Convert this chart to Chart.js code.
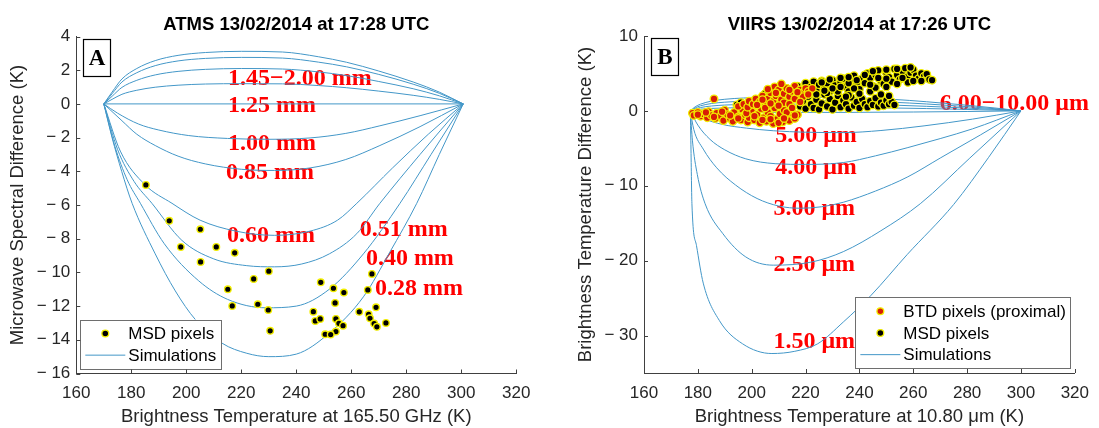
<!DOCTYPE html>
<html>
<head>
<meta charset="utf-8">
<script src="https://cdn.jsdelivr.net/npm/chart.js@4.4.1/dist/chart.umd.min.js"></script>
<style>
    html, body { margin: 0; padding: 0; background: #fff; }
    #wrap { position: relative; width: 1099px; height: 428px; }
    #chartA { position: absolute; left: 0; top: 0; }
    #chartB { position: absolute; left: 549px; top: 0; }
</style>
</head>
<body>
<div id="wrap">
    <canvas id="chartA" width="549" height="428"></canvas>
    <canvas id="chartB" width="550" height="428"></canvas>
</div>
<script>
// ---- ticks ----
var xTicks = [160, 180, 200, 220, 240, 260, 280, 300, 320];
var yTicksA = [4, 2, 0, -2, -4, -6, -8, -10, -12, -14, -16];
var yTicksB = [10, 0, -10, -20, -30];

// ---- ATMS simulations (x = Tb 165.50 GHz, y = MSD) ----
var simA_top1 = [[170,0],[173,0.7],[176.6,1.48],[182,2.1],[188.7,2.57],[197,2.88],[207,3.05],[220,3.12],[235,3.08],[248,2.8],[258.3,2.47],[270,1.95],[282.5,1.3],[292,0.7],[300.7,0]];
var simA_top2 = [[170,0],[173,0.6],[176.6,1.3],[182,1.85],[188.7,2.27],[197,2.55],[207,2.7],[220,2.76],[235,2.72],[248,2.48],[258.3,2.2],[270,1.75],[282.5,1.17],[292,0.63],[300.7,0]];
var simA_top3 = [[170,0],[173,0.45],[176.6,0.98],[182,1.4],[188.7,1.72],[197,1.93],[207,2.05],[220,2.1],[235,2.07],[248,1.9],[258.3,1.68],[270,1.33],[282.5,0.9],[292,0.48],[300.7,0]];
var simA_top4 = [[170,0],[173,0.27],[176.6,0.57],[182,0.81],[188.7,0.99],[197,1.11],[207,1.18],[220,1.2],[235,1.19],[248,1.09],[258.3,0.96],[270,0.76],[282.5,0.51],[292,0.27],[300.7,0]];
var simA_125 = [[170,0],[235,0],[300.7,0]];
var simA_100 = [[170,0],[175,-0.55],[182.7,-1.2],[190,-1.55],[200.9,-1.88],[215,-2.05],[230,-2.1],[245,-2.02],[258,-1.75],[270.4,-1.3],[285,-0.7],[300.7,0]];
var simA_085 = [[170,0],[176.6,-1.0],[182,-1.8],[188.7,-2.47],[197,-3.1],[206.9,-3.56],[220,-3.88],[232,-3.95],[245,-3.8],[258,-3.3],[270.4,-2.47],[285,-1.35],[300.7,0]];
var simA_060 = [[170,0],[176,-2.8],[185,-4.8],[194.8,-5.9],[205,-6.9],[218,-7.55],[232,-7.8],[245,-7.55],[255,-6.9],[262,-5.9],[275,-3.8],[288,-1.8],[300.7,0]];
var simA_051 = [[170,0],[175,-2.7],[181,-4.6],[187.5,-5.9],[198.4,-8.1],[210,-9.2],[222,-9.6],[232,-9.67],[242,-9.5],[252,-8.9],[262,-7.7],[270.4,-5.9],[285,-3],[300.7,0]];
var simA_040 = [[170,0],[174,-2.5],[178.5,-4.5],[183.3,-5.9],[192,-8.3],[204.5,-10.5],[215,-11.6],[229,-12.1],[240,-12.0],[252,-11.0],[264.4,-8.9],[277.7,-5.9],[289,-3],[300.7,0]];
var simA_028 = [[170,0],[173,-2],[176.5,-4],[180.3,-5.9],[188.7,-8.9],[196,-11.1],[203.3,-12.8],[213,-14.2],[222,-14.8],[230,-15],[240,-14.85],[252,-13.6],[264.4,-11.45],[274,-8.8],[283.8,-5.9],[292,-3],[300.7,0]];
var simACurves = [simA_top1, simA_top2, simA_top3, simA_top4, simA_125, simA_100, simA_085, simA_060, simA_051, simA_040, simA_028];

var msdA = [
    [185.3,-4.81],[193.8,-6.94],[205.1,-7.44],[198.0,-8.49],[210.9,-8.49],[217.6,-8.84],[205.2,-9.38],
    [230.0,-9.93],[224.5,-10.39],[215.1,-11.0],[216.7,-11.99],[226.0,-11.89],[229.8,-12.23],[230.5,-13.47],
    [248.9,-10.59],[253.5,-10.94],[257.3,-11.2],[254.1,-11.81],[246.2,-12.33],[246.9,-12.88],[248.7,-12.76],
    [254.4,-12.76],[255.5,-13.02],[257.0,-13.16],[254.4,-13.51],[250.5,-13.67],[252.5,-13.69],
    [267.5,-10.09],[266.0,-11.04],[269.0,-12.07],[262.9,-12.34],[266.3,-12.49],[266.8,-12.72],
    [268.3,-13.04],[269.3,-13.23],[272.6,-13.0]
];
var curveLabelsA = ['1.45\u22122.00 mm', '1.25 mm', '1.00 mm', '0.85 mm', '0.60 mm', '0.51 mm', '0.40 mm', '0.28 mm'];

// ---- VIIRS simulations (x = Tb 10.80 um, y = BTD) ----
var simB_p1 = [[177.2,0],[179,0.55],[181,0.9],[185,1.3],[190,1.55],[197,1.72],[210,1.82],[225,1.83],[238,1.74],[252,1.55],[265,1.22],[278,0.82],[290,0.4],[300,0]];
var simB_p2 = [[177.2,0],[179,0.4],[181,0.68],[185,0.98],[190,1.16],[197,1.29],[210,1.37],[225,1.37],[238,1.3],[252,1.16],[265,0.92],[278,0.62],[290,0.3],[300,0]];
var simB_p3 = [[177.2,0],[179,0.27],[181,0.45],[185,0.65],[190,0.78],[197,0.86],[210,0.91],[225,0.91],[238,0.87],[252,0.78],[265,0.61],[278,0.41],[290,0.2],[300,0]];
var simB_p4 = [[177.2,0],[179,0.14],[181,0.23],[185,0.33],[190,0.39],[197,0.43],[210,0.46],[225,0.46],[238,0.44],[252,0.39],[265,0.31],[278,0.21],[290,0.1],[300,0]];
var simB_p5 = [[177.2,0],[190,-0.12],[210,-0.2],[235,-0.2],[260,-0.15],[280,-0.08],[300,0]];
var simB_500 = [[177.2,0],[182,-1.0],[189,-1.8],[198,-2.3],[208,-2.65],[220,-2.85],[234,-2.9],[248,-2.62],[264,-2.0],[282,-1.1],[300,0]];
var simB_400 = [[177.2,0],[180,-1.9],[184.5,-3.8],[190,-5.2],[197.8,-6.4],[208.7,-7.05],[220,-7.15],[234,-6.9],[246,-6.0],[258,-4.9],[270,-3.7],[282,-2.4],[300,0]];
var simB_300 = [[177.2,0],[178.5,-2.5],[182,-5.1],[187,-7.6],[194,-9.9],[202,-11.7],[210,-12.7],[218,-13.0],[226,-12.8],[234,-12.2],[246,-10.7],[258,-8.8],[270,-6.3],[285,-3.2],[300,0]];
var simB_250 = [[177.2,0],[178,-4],[179.8,-8.5],[182.7,-12.4],[189.3,-16.4],[197.8,-19.5],[208,-20.6],[222,-20.2],[234,-18.8],[248,-16],[262.6,-12.4],[281,-6.3],[300,0]];
var simB_150 = [[177.2,0],[177.4,-4],[177.8,-12.4],[179.5,-18],[182,-23],[188,-28],[196.6,-31.1],[207.5,-32.4],[216,-32.1],[224.5,-31.1],[234,-28.2],[244.4,-24.6],[257.7,-19.2],[275,-12.5],[288,-6.2],[300,0]];
var simBCurves = [simB_p1, simB_p2, simB_p3, simB_p4, simB_p5, simB_500, simB_400, simB_300, simB_250, simB_150];

var btdB = [
    [178,-0.3],[178.5,-0.6],[180,-0.2],[181,-0.7],[182,-0.4],[183.5,-0.9],[184,-0.1],[185,-0.6],[186.5,-1.0],
    [187,-0.3],[188.5,-0.7],[189.5,-1.3],[190,0.1],[191,-0.5],[192,-1.0],[193,-1.4],[193.5,-0.2],[195,-0.8],
    [196,-1.2],[196.5,0.2],[197.5,-0.5],[198.5,-1.5],[199,-0.9],[200,-0.1],[201,-1.2],[202,-0.5],[203,-1.6],
    [203.5,0.3],[204.5,-0.9],[205.5,-1.4],[206,-0.2],[207,-0.7],[208,-1.7],[208.5,0.4],[209.5,-1.1],[210.5,-0.4],
    [211.5,-1.5],[212,0.1],[213,-0.8],[214,-1.3],[215,-0.3],[216,-1.0],[217,-0.5],
    [180,-0.5],[183,-0.2],[186,-0.8],[189,-0.1],[192,-0.6],[195,-1.0],[198,-0.3],[201,-0.7],[204,-1.2],
    [207,-1.1],[210,-1.6],[213,-0.2],[216,-0.6],[212,-1.0],
    [195,0.6],[197,0.9],[198.5,0.5],[199,1.3],[200.5,0.9],[201.5,1.6],[203,1.2],[204,2.0],[205,0.9],[206,1.6],
    [207,2.4],[208,1.3],[208.5,3.2],[209,2.0],[210,2.8],[211,1.5],[212,2.3],[213,3.0],[214,1.9],[215,2.6],
    [216,3.3],[217,2.1],[218,2.8],[219,2.4],[220,3.0],[221,2.6],[222.5,3.0],[211,3.6],[206,2.9],
    [205,0.4],[202,0.8],[207,1.0],[212,1.1],[216,1.6],[219,1.9],[221,2.2],[214,2.8],[217,2.5],[209,2.4],[204,1.5],
    [210,0.7],[214,0.9],[218,1.2],[215,0.4],[186,1.6]
];
var msdB = [
    [194.5,0.8],[196,1.1],[198,0.6],[200,1.3],[202,0.7],[204,1.5],[206,0.8],[208,1.2],[210,0.5],[212,1.4],
    [214,0.9],[216,1.8],[218,0.6],[219,1.3],[220,0.3],[221,1.9],[222,0.9],[223,0.4],[224,1.5],[225,0.2],
    [226,1.0],[227,2.2],[228,0.6],[229,1.6],[230,0.2],[231,1.1],[232,2.0],[233,0.5],[234,1.4],[235,0.9],
    [236,0.3],[237,1.8],[238,0.7],[239,1.2],[240,0.4],[241,1.6],[242,0.9],[243,0.5],[244,1.3],[245,0.8],
    [246,1.7],[247,0.6],[248,1.1],[249,0.7],[250,1.4],[251,0.9],[252,1.2],[253,0.8],
    [205,2.3],[207,1.9],[209,2.6],[211,2.2],[213,3.0],[215,2.6],[217,3.3],[219,2.9],[220,3.7],[222,3.2],
    [223,3.9],[224,2.8],[225,3.5],[226,4.0],[227,3.1],[228,3.7],[229,2.6],[230,4.1],[231,3.4],[232,2.9],
    [233,3.8],[234,4.3],[235,3.2],[236,2.6],[237,4.0],[238,4.7],[239,3.5],[240,2.9],[241,4.3],[242,3.7],
    [243,5.0],[244,4.4],[245,3.3],[246,4.8],[247,5.4],[248,4.0],[249,3.6],[250,5.1],[251,4.5],[252,3.9],
    [253,5.6],[254,4.8],[255,4.2],[256,5.3],[257,5.7],[258,4.6],[259,5.1],[260,5.5],[261,4.7],[262,4.3],
    [263,5.0],[264,4.6],[265,4.9],[266,4.2],[267,4.1],
    [228,2.4],[232,2.6],[236,2.1],[240,2.3],[244,2.6],[248,2.2],[251,2.0],[238,3.0],[246,3.1],[250,3.2],[235,1.9],
    [258,3.8],[260,4.0],[263,4.0],[256,4.4],[254,3.6],[250,4.3],[247,4.4],[244,3.5],[242,4.8],[239,4.1],
    [236,3.7],[233,3.2],[230,3.0],[227,2.7],[224,2.2],[221,2.6],[218,2.3],[214,2.1],[210,1.9],[206,1.5],
    [203,1.1],[199,0.9],[226,3.8],[229,4.2],[233,4.4],[236,4.5],[245,5.3],[250,5.5],[254,5.6],[259,5.8]
];
var curveLabelsB = ['6.00\u221210.00 \u03bcm', '5.00 \u03bcm', '4.00 \u03bcm', '3.00 \u03bcm', '2.50 \u03bcm', '1.50 \u03bcm'];

// ---- styles / placement ----
var sans = '"Liberation Sans", Arial, Helvetica, sans-serif';
var serif = '"Liberation Serif", "Times New Roman", serif';
var simColor = '#4397c8';
var axisColor = '#404040';
var edgeYellow = '#f2ee00';
var labelPosA = [[215.2,1.48],[215.2,-0.14],[215.2,-2.34],[214.4,-4.1],[214.8,-7.8],[263.1,-7.5],[265.3,-9.18],[268.6,-10.96]];
var labelPosB = [[269.8,0.9],[208.7,-3.33],[208.7,-7.55],[208.1,-13.07],[208.1,-20.6],[208.1,-30.8]];

fmtTick = (v) => v < 0 ? '\u2212 ' + Math.abs(v) : String(v);

toXY = (pts) => pts.map(p => ({ x: p[0], y: p[1] }));

simDatasets = (curves) => curves.map(c => ({
    type: 'line',
    data: toXY(c),
    borderColor: simColor,
    borderWidth: 1,
    pointRadius: 0,
    fill: false,
    cubicInterpolationMode: 'monotone',
    order: 3
}));

pointDataset = (pts, fill, order, r) => ({
    type: 'scatter',
    data: toXY(pts),
    backgroundColor: fill,
    borderColor: edgeYellow,
    borderWidth: 1.4,
    pointRadius: r,
    order: order
});

makeExtras = (cfg) => ({
    id: 'extras',
    beforeDatasetsDraw(chart) {
        const { ctx, scales: { x, y } } = chart;
        ctx.save();
        ctx.fillStyle = '#ff0000';
        ctx.font = 'bold 24px ' + serif;
        ctx.textAlign = 'left';
        ctx.textBaseline = 'middle';
        cfg.labels.forEach((t, i) => {
            ctx.fillText(t, x.getPixelForValue(cfg.labelPos[i][0]), y.getPixelForValue(cfg.labelPos[i][1]));
        });
        ctx.restore();
    },
    afterDatasetsDraw(chart) {
        const { ctx, chartArea } = chart;
        ctx.save();
        ctx.font = '17px ' + sans;
        let textW = Math.max(...cfg.legend.map(it => ctx.measureText(it.text).width));
        let w = 48 + textW + 5;
        let h = cfg.legend.length * 21.7 + 6;
        let left = cfg.legendCorner == 'sw' ? chartArea.left + 4 : chartArea.right - 4 - w;
        let top = chartArea.bottom - 4.5 - h;
        ctx.fillStyle = '#fff';
        ctx.fillRect(left, top, w, h);
        ctx.strokeStyle = '#6e6e6e';
        ctx.lineWidth = 1;
        ctx.strokeRect(Math.round(left) + 0.5, Math.round(top) + 0.5, Math.round(w), Math.round(h));
        cfg.legend.forEach((it, i) => {
            let cy = top + 3 + 21.7 * (i + 0.5);
            if (it.kind == 'line') {
                ctx.strokeStyle = simColor;
                ctx.beginPath();
                ctx.moveTo(left + 5, cy);
                ctx.lineTo(left + 45, cy);
                ctx.stroke();
            } else {
                ctx.fillStyle = it.fill;
                ctx.strokeStyle = edgeYellow;
                ctx.lineWidth = 1.3;
                ctx.beginPath();
                ctx.arc(left + 25, cy, 3.4, 0, Math.PI * 2);
                ctx.fill();
                ctx.stroke();
                ctx.lineWidth = 1;
            }
            ctx.fillStyle = '#000';
            ctx.textAlign = 'left';
            ctx.textBaseline = 'middle';
            ctx.fillText(it.text, left + 48, cy + 1);
        });
        ctx.restore();
    },
    afterDraw(chart) {
        const { ctx, chartArea, scales: { x, y } } = chart;
        ctx.save();
        // inward tick marks
        ctx.strokeStyle = axisColor;
        ctx.lineWidth = 1;
        ctx.beginPath();
        x.ticks.forEach(t => {
            let px = Math.round(x.getPixelForValue(t.value)) + 0.5;
            ctx.moveTo(px, chartArea.bottom);
            ctx.lineTo(px, chartArea.bottom - 4);
        });
        y.ticks.forEach(t => {
            let py = Math.round(y.getPixelForValue(t.value)) + 0.5;
            ctx.moveTo(chartArea.left, py);
            ctx.lineTo(chartArea.left + 4, py);
        });
        ctx.stroke();
        // title
        ctx.fillStyle = '#000';
        ctx.font = 'bold 18.5px ' + sans;
        ctx.textAlign = 'center';
        ctx.textBaseline = 'middle';
        ctx.fillText(cfg.title, (chartArea.left + chartArea.right) / 2, 25);
        // panel letter
        let bx = Math.round(chartArea.left + 6.5) + 0.5;
        let by = Math.round(chartArea.top + 2) + 0.5;
        ctx.fillStyle = '#fff';
        ctx.fillRect(bx, by, 27, 37);
        ctx.strokeStyle = '#000';
        ctx.lineWidth = 1.2;
        ctx.strokeRect(bx, by, 27, 37);
        ctx.fillStyle = '#000';
        ctx.font = 'bold 23px ' + serif;
        ctx.fillText(cfg.letter, bx + 13.5, by + 20);
        ctx.restore();
    }
});

makeOptions = (cfg) => ({
    responsive: false,
    animation: false,
    devicePixelRatio: 1,
    layout: { padding: { left: 0, top: cfg.padTop, right: cfg.padRight, bottom: 0 } },
    plugins: {
        legend: { display: false },
        tooltip: { enabled: false },
        title: { display: false }
    },
    scales: {
        x: {
            type: 'linear',
            min: 160,
            max: 320,
            grid: { display: false, drawTicks: false },
            border: { display: true, color: axisColor, width: 1 },
            afterBuildTicks: (s) => { s.ticks = xTicks.map(v => ({ value: v })); },
            afterFit: (s) => { s.height = cfg.xHeight; },
            ticks: { color: '#262626', font: { family: sans, size: 17 }, padding: 10, autoSkip: false, maxRotation: 0, callback: fmtTick },
            title: { display: true, text: cfg.xTitle, color: '#262626', font: { family: sans, size: 18.5 }, padding: { top: 0, bottom: 0 } }
        },
        y: {
            type: 'linear',
            min: cfg.yMin,
            max: cfg.yMax,
            grid: { display: false, drawTicks: false },
            border: { display: true, color: axisColor, width: 1 },
            afterBuildTicks: (s) => { s.ticks = cfg.yTicks.map(v => ({ value: v })); },
            afterFit: (s) => { s.width = cfg.yWidth; },
            ticks: { color: '#262626', font: { family: sans, size: 17 }, padding: 6, autoSkip: false, callback: fmtTick },
            title: { display: true, text: cfg.yTitle, color: '#262626', font: { family: sans, size: 18.5 }, padding: { top: cfg.yTitlePad, bottom: 0 } }
        }
    }
});

// ---- chart A ----
new Chart(document.getElementById('chartA'), {
    type: 'scatter',
    data: {
        datasets: [pointDataset(msdA, '#000000', 1, 3.3)].concat(simDatasets(simACurves))
    },
    options: makeOptions({
        padTop: 36.5, padRight: 32.7, xHeight: 54.5, yWidth: 76.3,
        yMin: -16, yMax: 4, yTicks: yTicksA, yTitlePad: 6.9,
        xTitle: 'Brightness Temperature at 165.50 GHz (K)',
        yTitle: 'Microwave Spectral Difference (K)'
    }),
    plugins: [makeExtras({
        title: 'ATMS 13/02/2014 at 17:28 UTC',
        letter: 'A',
        labels: curveLabelsA,
        labelPos: labelPosA,
        legendCorner: 'sw',
        legend: [
            { kind: 'point', fill: '#000000', text: 'MSD pixels' },
            { kind: 'line', text: 'Simulations' }
        ]
    })]
});

// ---- chart B ----
new Chart(document.getElementById('chartB'), {
    type: 'scatter',
    data: {
        datasets: [pointDataset(btdB, '#d81e05', 0, 3.8), pointDataset(msdB, '#000000', 1, 3.8)].concat(simDatasets(simBCurves))
    },
    options: makeOptions({
        padTop: 36, padRight: 15, xHeight: 55, yWidth: 95,
        yMin: -35, yMax: 10, yTicks: yTicksB, yTitlePad: 25.9,
        xTitle: 'Brightness Temperature at 10.80 \u03bcm (K)',
        yTitle: 'Brightness Temperature Difference (K)'
    }),
    plugins: [makeExtras({
        title: 'VIIRS 13/02/2014 at 17:26 UTC',
        letter: 'B',
        labels: curveLabelsB,
        labelPos: labelPosB,
        legendCorner: 'se',
        legend: [
            { kind: 'point', fill: '#d81e05', text: 'BTD pixels (proximal)' },
            { kind: 'point', fill: '#000000', text: 'MSD pixels' },
            { kind: 'line', text: 'Simulations' }
        ]
    })]
});
</script>
</body>
</html>
